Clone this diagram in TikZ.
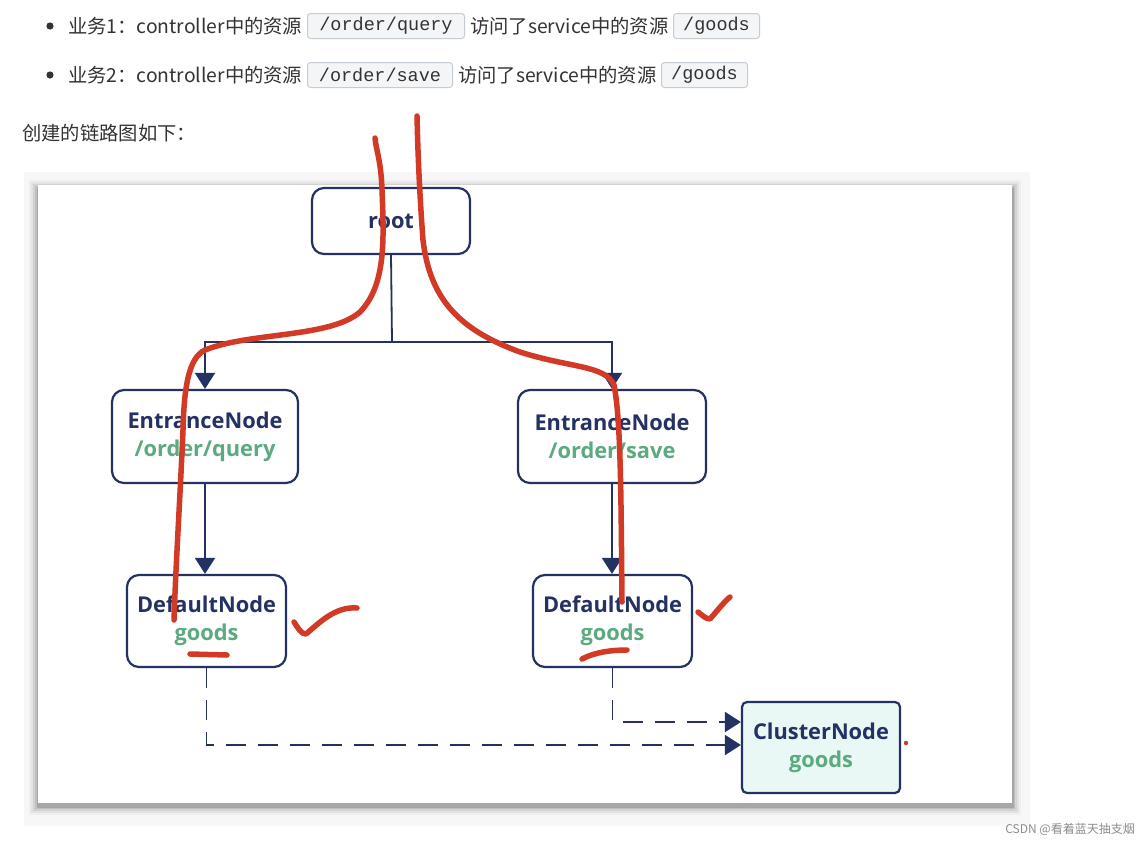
\documentclass[tikz,border=0pt]{standalone}
\usepackage{fontspec}
\setmainfont{Noto Sans}
\newfontfamily\cjk{Noto Sans CJK SC}
\newfontfamily\codefont{Liberation Mono}
\newfontfamily\nodefont{Open Sans}
\usetikzlibrary{arrows.meta}
\definecolor{navy}{HTML}{243163}
\definecolor{nodegreen}{HTML}{5BAA80}
\definecolor{redpen}{HTML}{D23A26}
\definecolor{codebg}{HTML}{F3F5F7}
\definecolor{codeborder}{HTML}{C6CCD4}
\definecolor{clusterfill}{HTML}{E9F8F5}
\definecolor{bodytext}{HTML}{333333}
\tikzset{
  prose/.style={anchor=west, inner sep=0pt, text=bodytext, font=\cjk\fontsize{19.3}{21}\selectfont},
  codebox/.style={anchor=west, draw=codeborder, fill=codebg, rounded corners=3pt, line width=1pt,
    inner sep=0pt, minimum height=25pt, text=bodytext, font=\codefont\fontsize{18.5}{20}\selectfont},
  chainnode/.style={draw=navy, line width=2.2pt, rounded corners=12pt, fill=white, align=center,
    inner sep=0pt, font=\nodefont\bfseries\fontsize{21.8}{28}\selectfont, text=navy},
  flow/.style={draw=navy, line width=1.8pt},
  arr/.style={flow, -{Triangle[length=16pt,width=20pt]}},
  darr/.style={arr, dash pattern=on 20pt off 12pt},
  pen/.style={draw=redpen, line width=5.5pt, line cap=round, line join=round},
}
\newcommand{\gr}[1]{\textcolor{nodegreen}{#1}}
\begin{document}
\begin{tikzpicture}[x=1pt,y=-1pt]
\useasboundingbox (0,0) rectangle (1142,844);
\fill[white] (0,0) rectangle (1142,844);

% --- prose above the diagram ---
\fill[bodytext] (50,26) circle (3.6pt);
\node[prose] (t1a) at (68,26) {业务1：controller中的资源};
\node[codebox, minimum width=157pt] (c1a) at (307,26) {/order/query};
\node[prose] (t1b) at (470,26) {访问了service中的资源};
\node[codebox, minimum width=86pt] (c1b) at (673,26) {/goods};

\fill[bodytext] (50,75) circle (3.6pt);
\node[prose] (t2a) at (68,75) {业务2：controller中的资源};
\node[codebox, minimum width=145pt] (c2a) at (307,75) {/order/save};
\node[prose] (t2b) at (458,75) {访问了service中的资源};
\node[codebox, minimum width=86pt] (c2b) at (661,75) {/goods};

\node[prose] (cap) at (22,133) {创建的链路图如下：};

% --- panel with shadow ---
\fill[black!3] (24,172) rectangle (1030,826);
\foreach \d/\o in {9/0.03,7/0.05,5/0.07,3/0.09,1.5/0.12}{
  \fill[black, opacity=\o] (38-\d,185-\d+4) rectangle (1012+\d,803+\d+3);
}
\fill[white] (38,185) rectangle (1012,803);

% --- nodes ---
\node[chainnode, minimum width=158pt, minimum height=66pt] (root) at (391,221) {root};
\node[chainnode, minimum width=186pt, minimum height=93pt] (el) at (205,436.5) {EntranceNode\\\gr{/order/query}};
\node[chainnode, minimum width=188pt, minimum height=93pt] (er) at (612,436.5) {EntranceNode\\\gr{/order/save}};
\node[chainnode, minimum width=159pt, minimum height=92pt] (dl) at (206.5,621) {DefaultNode\\\gr{goods}};
\node[chainnode, minimum width=159pt, minimum height=92pt] (dr) at (612.5,621) {DefaultNode\\\gr{goods}};
\node[chainnode, rounded corners=5pt, fill=clusterfill, minimum width=158pt, minimum height=91pt] (cn) at (821,747.5) {ClusterNode\\\gr{goods}};

% --- connectors ---
\coordinate (j) at (392,342);
\draw[flow] (root.south) -- (j);
\draw[arr] (j) -| (el.north);
\draw[arr] (j) -| (er.north);
\draw[arr] (el.south) -- (el.south |- dl.north);
\draw[arr] (er.south) -- (er.south |- dr.north);
\draw[darr] (dl.south) |- ([yshift=2.5pt]cn.west);
\draw[darr] (dr.south) |- ([yshift=25.5pt]cn.west);

% --- red pen annotations ---
\draw[pen] (375,138) .. controls (376,150) and (381,160) .. (382,190)
  .. controls (384,240) and (386,285) .. (360,312)
  .. controls (330,338) and (250,332) .. (205,350)
  .. controls (188,358) and (184,390) .. (183,430)
  .. controls (180,500) and (176,560) .. (174,620);
\draw[pen] (417,116) .. controls (418,160) and (420,200) .. (423,240)
  .. controls (430,300) and (460,330) .. (520,352)
  .. controls (570,368) and (605,365) .. (614,385)
  .. controls (621,420) and (621,500) .. (622,602);
\draw[pen] (294,622) .. controls (298,628) and (301,634) .. (306,634)
  .. controls (318,624) and (335,606) .. (357,608);
\draw[pen] (698,612) .. controls (702,615) and (706,619) .. (710,619)
  .. controls (716,612) and (724,602) .. (730,597);
\draw[pen] (190,654) -- (227,655);
\draw[pen] (582,659) .. controls (595,652) and (612,650) .. (627,650);
\fill[redpen] (906,743) circle (2.2pt);

% --- watermark ---
\node[anchor=east, inner sep=0pt, text=black!45, font=\cjk\fontsize{12}{14}\selectfont] (wm) at (1135,829) {CSDN @看着蓝天抽支烟};
\end{tikzpicture}
\end{document}
